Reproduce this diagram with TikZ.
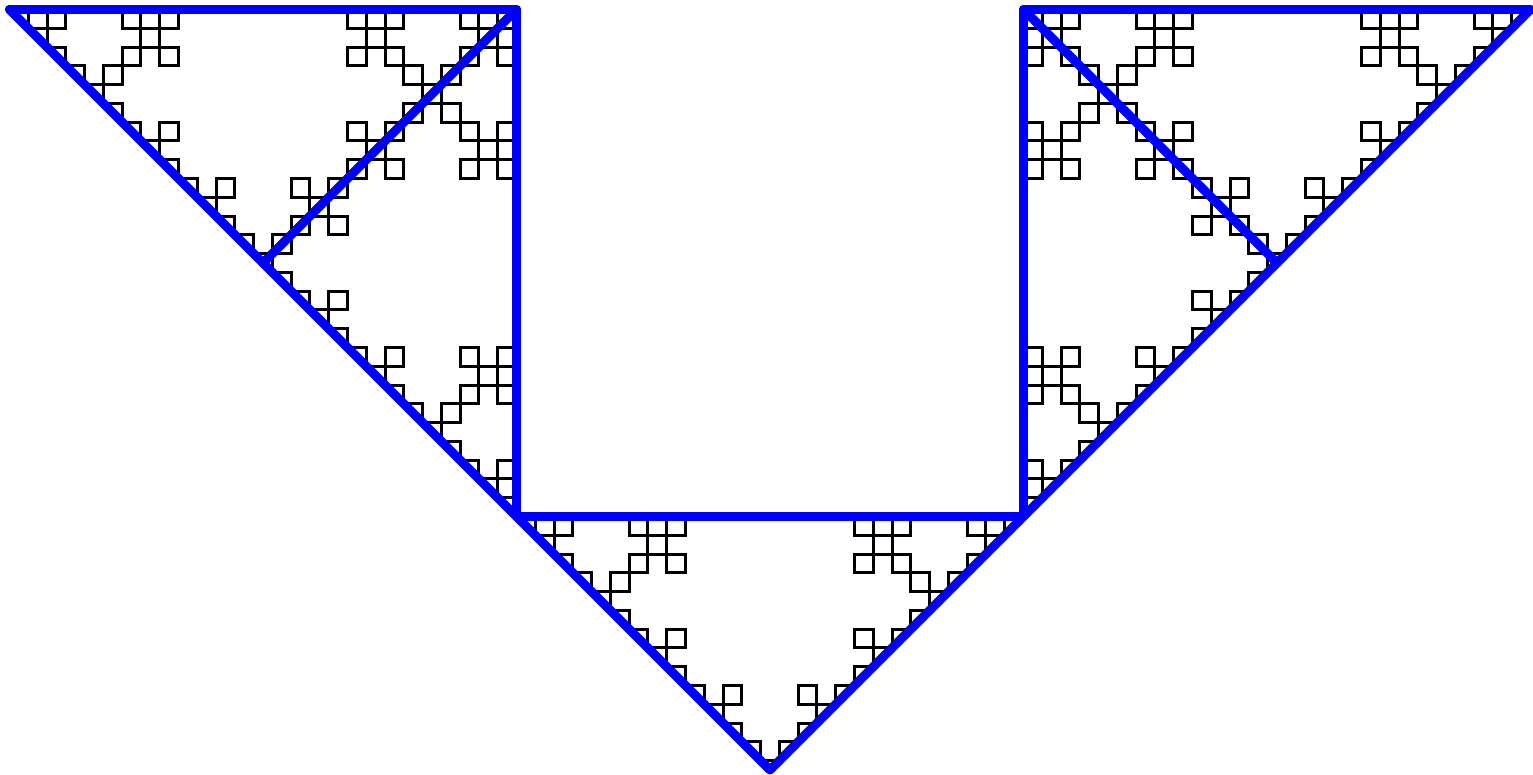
\documentclass[tikz,border=0pt]{standalone}
\newcount\kochx \newcount\kochy \newcount\kochdx \newcount\kochdy \newcount\kochtmp
\def\kochpath{(0,0)}
\def\kochfwd{\advance\kochx\kochdx \advance\kochy\kochdy \xdef\kochpath{\kochpath --(\the\kochx,\the\kochy)}}
\def\kochright{\kochtmp=\kochdx \kochdx=\kochdy \kochdy=-\kochtmp\relax}
\def\kochleft{\kochtmp=\kochdx \kochdx=-\kochdy \kochdy=\kochtmp\relax}
\def\kochseg#1{\ifnum\numexpr#1\relax=0 \kochfwd\else\kochseg{#1-1}\kochright\kochseg{#1-1}\kochleft\kochseg{#1-1}\kochleft\kochseg{#1-1}\kochright\kochseg{#1-1}\fi}
\kochx=0 \kochy=0 \kochdx=1 \kochdy=0
\kochseg{4}
\begin{document}
\begin{tikzpicture}[x=1pt,y=1pt,
  blueline/.style={draw={rgb,255:red,0;green,0;blue,255}, line width=9pt, line cap=round, line join=round},
  curveline/.style={draw=black, line width=3pt, line join=miter}]
\useasboundingbox (0,0) rectangle (1533,-775);
\coordinate (A) at (9.5,-9.5);
\coordinate (P1) at (516.5,-9.5);
\coordinate (P2) at (516.5,-516.5);
\coordinate (P3) at (1023.5,-516.5);
\coordinate (P4) at (1023.5,-9.5);
\coordinate (B) at (1530.5,-9.5);
\coordinate (T) at (770,-770);
\coordinate (Q1) at (263,-263);
\coordinate (Q2) at (1277,-263);
\begin{scope}[shift={(A)}, x=18.77778pt, y=18.77778pt]
\draw[curveline] \kochpath;
\end{scope}
\draw[blueline] (A) -- (P1) -- (P2) -- (P3) -- (P4) -- (B);
\draw[blueline] (A) -- (T) -- (B);
\draw[blueline] (P1) -- (Q1);
\draw[blueline] (P4) -- (Q2);
\end{tikzpicture}
\end{document}
